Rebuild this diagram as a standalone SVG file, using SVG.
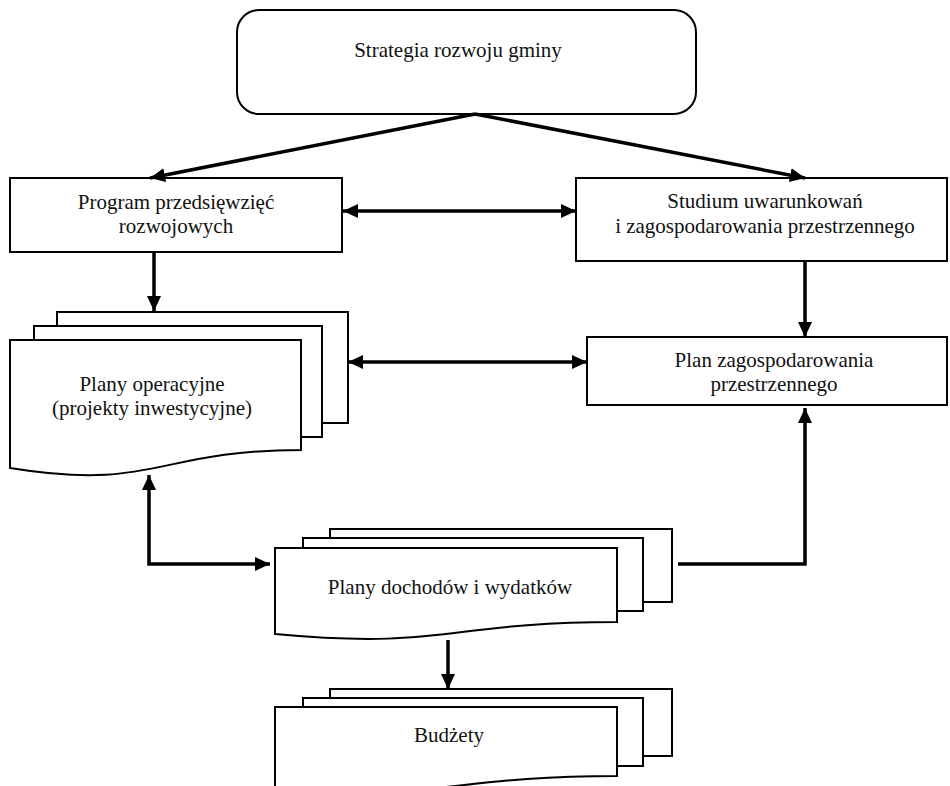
<svg xmlns="http://www.w3.org/2000/svg" width="950" height="786" viewBox="0 0 950 786">
  <style>
    .box { fill: #fff; stroke: #000; stroke-width: 2; }
    .lbl { font-size: 21px; fill: #111; text-anchor: middle; }
    .link { fill: none; stroke: #000; stroke-width: 3.5; }
  </style>
  <defs>
    <marker id="arrow" markerUnits="userSpaceOnUse" markerWidth="16" markerHeight="14" refX="15" refY="7" orient="auto-start-reverse">
      <path d="M0,0 L15,7 L0,14 z" fill="#000"/>
    </marker>
  </defs>
  <rect width="950" height="786" fill="#fff"/>

  <g font-family="'Liberation Serif', 'DejaVu Serif', serif">
  <g id="strategia">
    <rect class="box" x="237" y="10" width="459" height="104" rx="22" ry="22"/>
    <text class="lbl" x="458" y="57">Strategia rozwoju gminy</text>
  </g>

  <g id="program">
    <rect class="box" x="10" y="178" width="332" height="74"/>
    <text class="lbl" x="176" y="209">Program przedsięwzięć</text>
    <text class="lbl" x="176" y="233">rozwojowych</text>
  </g>

  <g id="studium">
    <rect class="box" x="576" y="178" width="371" height="83"/>
    <text class="lbl" x="765" y="208">Studium uwarunkowań</text>
    <text class="lbl" x="765" y="233">i zagospodarowania przestrzennego</text>
  </g>

  <g id="plany-operacyjne">
    <rect class="box" x="57" y="312" width="291" height="111"/>
    <rect class="box" x="34" y="326" width="288" height="111"/>
    <path class="box" d="M10,340 H301 V450 C155.5,450 155.5,491.7 10,468 Z"/>
    <text class="lbl" x="152" y="391">Plany operacyjne</text>
    <text class="lbl" x="152" y="415">(projekty inwestycyjne)</text>
  </g>

  <g id="plan-zagospodarowania">
    <rect class="box" x="587" y="337" width="360" height="68"/>
    <text class="lbl" x="774" y="367">Plan zagospodarowania</text>
    <text class="lbl" x="774" y="391">przestrzennego</text>
  </g>

  <g id="plany-dochodow">
    <rect class="box" x="330" y="529" width="342" height="73"/>
    <rect class="box" x="303" y="538" width="340" height="73"/>
    <path class="box" d="M275,548 H617 V622 C446,622 446,650 275,634 Z"/>
    <text class="lbl" x="450" y="594">Plany dochodów i wydatków</text>
  </g>

  <g id="budzety">
    <rect class="box" x="330" y="689" width="342" height="67"/>
    <rect class="box" x="303" y="698" width="340" height="68"/>
    <path class="box" d="M275,707 H617 V776 C446,776 446,802 275,787 Z"/>
    <text class="lbl" x="449" y="742">Budżety</text>
  </g>
  </g>

  <g id="connectors">
    <line class="link" x1="475" y1="114" x2="150" y2="178" marker-end="url(#arrow)"/>
    <line class="link" x1="475" y1="114" x2="805" y2="178" marker-end="url(#arrow)"/>
    <line class="link" x1="343" y1="211" x2="576" y2="211" marker-start="url(#arrow)" marker-end="url(#arrow)"/>
    <line class="link" x1="154" y1="252" x2="154" y2="311" marker-end="url(#arrow)"/>
    <line class="link" x1="805" y1="261" x2="805" y2="337" marker-end="url(#arrow)"/>
    <line class="link" x1="348" y1="362" x2="587" y2="362" marker-start="url(#arrow)" marker-end="url(#arrow)"/>
    <polyline class="link" points="149,475 149,564 270,564" marker-start="url(#arrow)" marker-end="url(#arrow)"/>
    <polyline class="link" points="678,564 805,564 805,408" marker-end="url(#arrow)"/>
    <line class="link" x1="448" y1="640" x2="448" y2="689" marker-end="url(#arrow)"/>
  </g>
</svg>
